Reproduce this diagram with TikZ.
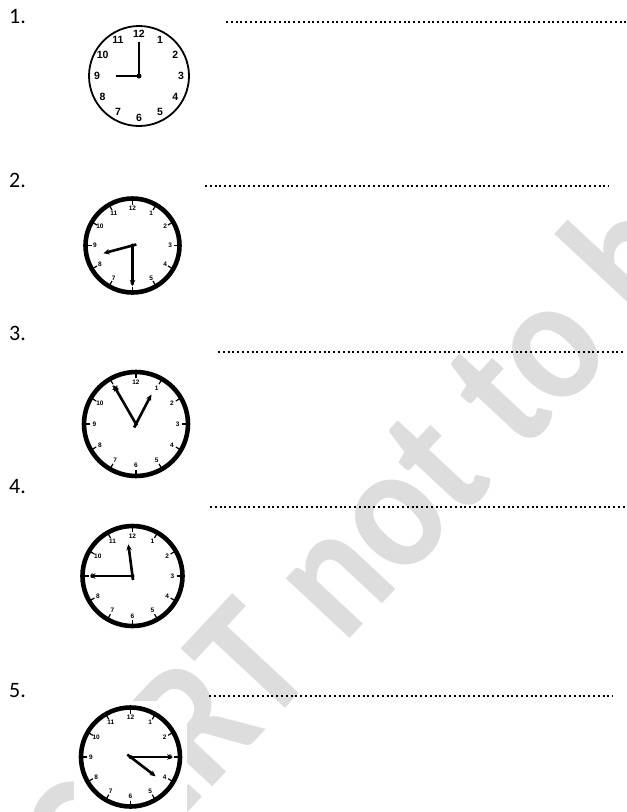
\documentclass[tikz,border=0pt]{standalone}
\usepackage{fontspec}
\setmainfont{Carlito}
\newfontfamily\dialfont{Liberation Sans}
\usepackage{tikz}
\usetikzlibrary{arrows.meta, positioning}
\definecolor{WaterGray}{RGB}{221,221,221}

\begin{document}
\begin{tikzpicture}[x=1pt, y=-1pt,
    qnum/.style={anchor=base west, inner sep=0pt, font=\fontsize{22}{24}\selectfont},
    answer/.style={line width=2pt, dash pattern=on 2pt off 2.8pt},
    rimthin/.style={line width=1.8pt},
    rimthick/.style={line width=4.6pt},
    bignum/.style={inner sep=0pt, font=\dialfont\bfseries\fontsize{10.5}{10.5}\selectfont},
    smallnum/.style={inner sep=0pt, font=\dialfont\bfseries\fontsize{6.5}{6.5}\selectfont},
    hub/.style={circle, fill, inner sep=0pt, minimum size=5pt},
    hand/.style={line width=2.7pt},
    arrowhand/.style={line width=2.6pt, -{Stealth[length=6pt, width=5.5pt]}},
    tick/.style={line width=1.2pt},
]
\useasboundingbox (0,0) rectangle (627,812);

% watermark
\begin{scope}
  \clip (0,0) rectangle (627,812);
  \node[rotate=47, anchor=base west, text=WaterGray, inner sep=0pt,
        font=\bfseries\fontsize{180}{180}\selectfont] (mark) at (45,966)
        {\scalebox{0.88}[1]{SCERT not to be}};
\end{scope}

% question numbers and answer lines
\node[qnum] (q1) at (9,23) {1.};
\node[qnum] (q2) at (9,187) {2.};
\node[qnum] (q3) at (9,340) {3.};
\node[qnum] (q4) at (9,493) {4.};
\node[qnum] (q5) at (9,697) {5.};

\coordinate (a1) at (226,22);  \coordinate (b1) at (627,22);
\coordinate (a2) at (205,186); \coordinate (b2) at (609,186);
\coordinate (a3) at (218,352); \coordinate (b3) at (623,352);
\coordinate (a4) at (210,507); \coordinate (b4) at (627,507);
\coordinate (a5) at (209,696); \coordinate (b5) at (613,696);
\foreach \i in {1,...,5}
  \draw[answer] (a\i) -- (b\i);

% clock 1, thin rim
\fill[white] (82,19) rectangle (196,133);
\begin{scope}[shift={(139,76)}]
  \coordinate (c1) at (0,0);
  \draw[rimthin] (c1) circle[radius=50];
  \foreach \h in {1,...,12}
    \node[bignum] (c1-\h) at ({\h*30-90}:42) {\h};
  \coordinate (c1-hr) at (180:23);
  \coordinate (c1-mn) at (-90:34);
  \draw[hand] (c1) -- (c1-hr);
  \draw[hand] (c1) -- (c1-mn);
  \node[hub] (c1-hub) at (c1) {};
\end{scope}

% clocks 2-5, thick rim
\foreach \n/\cx/\cy/\r/\hh/\mm in {2/132.5/245.5/47/255/180, 3/136/424/52/27.5/330,
                                   4/132.5/576/50/352.5/270, 5/130.5/757/49.5/127.5/90} {
  \fill[white] (\cx-\r-7,\cy-\r-7) rectangle (\cx+\r+7,\cy+\r+7);
  \begin{scope}[shift={(\cx,\cy)}]
    \coordinate (c\n) at (0,0);
    \draw[rimthick] (c\n) circle[radius=\r];
    \foreach \h in {1,...,12} {
      \draw[tick] ({\h*30-90}:{\r-6}) -- ({\h*30-90}:{\r});
      \node[smallnum] (c\n-\h) at ({\h*30-90}:{0.80*\r}) {\h};
    }
    \coordinate (c\n-hr) at ({\hh-90}:{0.64*\r});
    \coordinate (c\n-mn) at ({\mm-90}:{0.86*\r});
    \coordinate (c\n-tl) at ({\hh+90}:4);
    \draw[arrowhand] (c\n-tl) -- (c\n-hr);
    \draw[arrowhand] (c\n) -- (c\n-mn);
    \node[hub, minimum size=4pt] (c\n-hub) at (c\n) {};
  \end{scope}
}
\end{tikzpicture}
\end{document}
